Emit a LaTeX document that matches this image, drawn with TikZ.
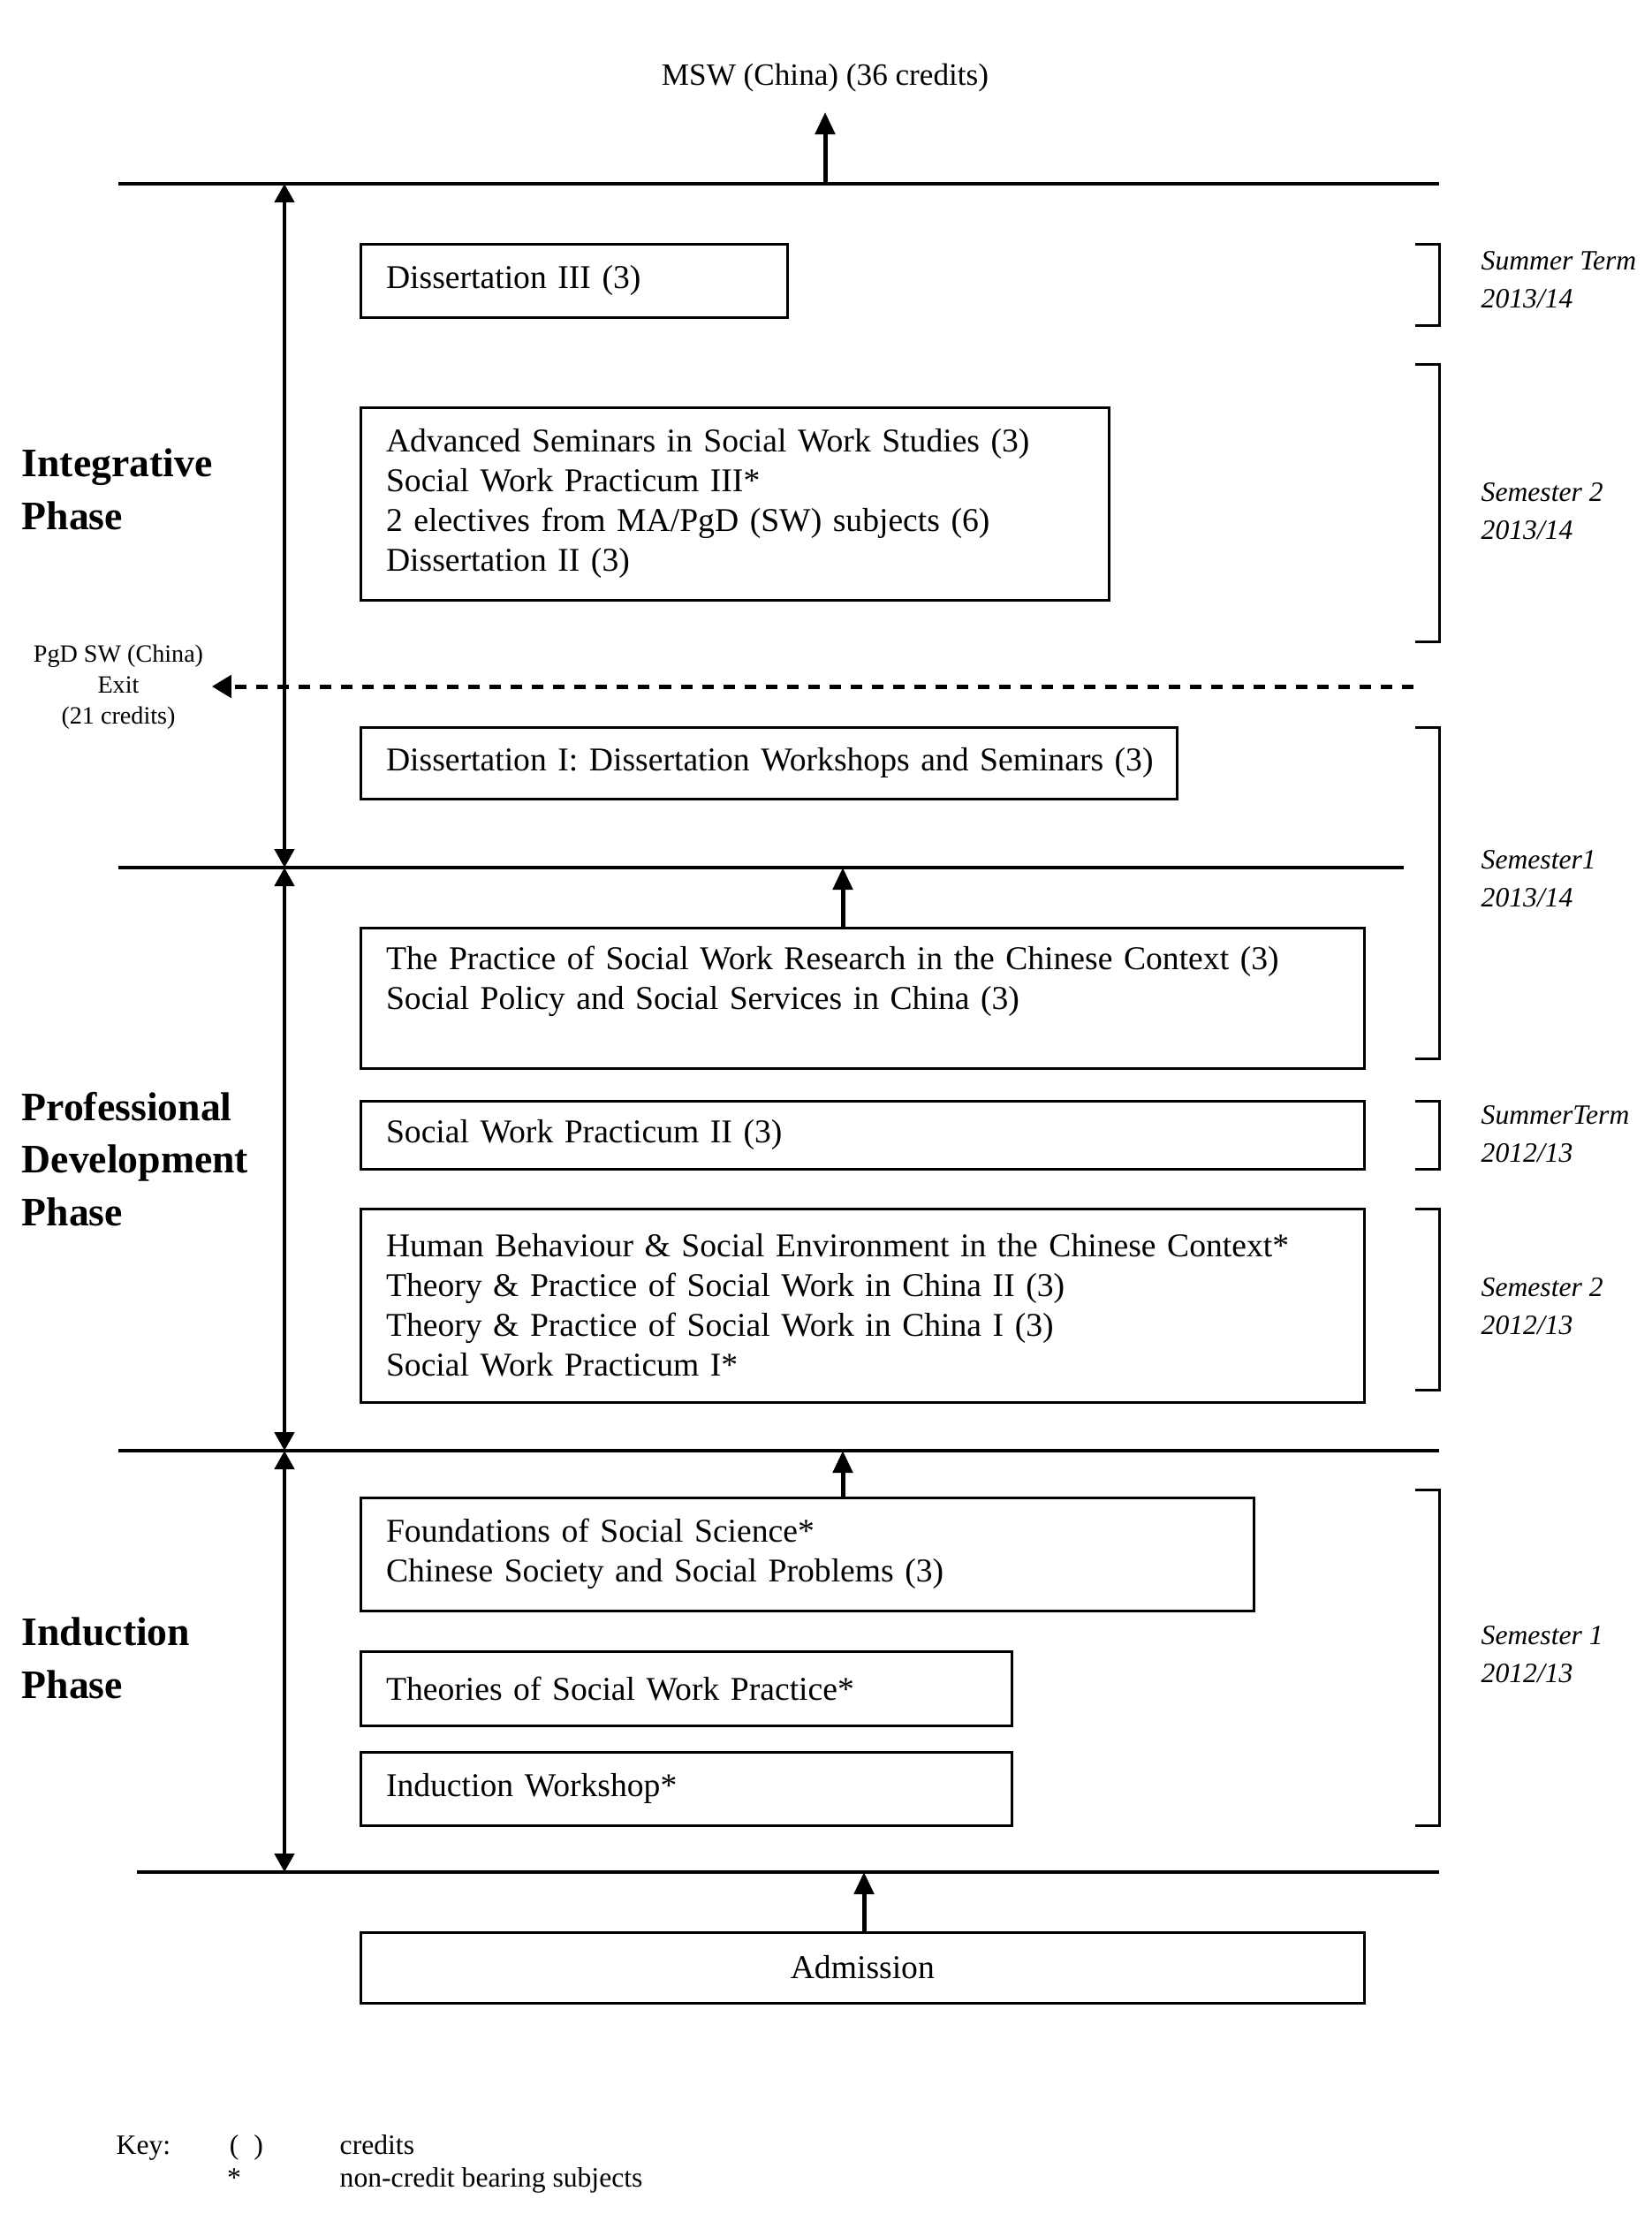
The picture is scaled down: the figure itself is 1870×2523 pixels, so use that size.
\documentclass[tikz,border=0pt]{standalone}
\usepackage{fontspec}
\setmainfont{Liberation Serif}
\usetikzlibrary{arrows.meta}

\tikzset{
  course/.style={draw, line width=0.03cm, anchor=north west, align=left,
    inner xsep=0.29cm, inner ysep=0pt, outer sep=0pt,
    font=\fontsize{10.7}{12.8}\selectfont},
  phase/.style={anchor=west, align=left, inner sep=0pt,
    font=\fontsize{13}{17}\selectfont\bfseries},
  semlabel/.style={anchor=west, align=left, inner sep=0pt,
    font=\fontsize{9}{12.3}\selectfont\itshape},
  keytext/.style={anchor=base west, inner sep=0pt,
    font=\fontsize{9}{11}\selectfont},
  divider/.style={line width=0.035cm},
  semterm/.style={line width=0.03cm},
  phasespan/.style={line width=0.045cm,
    {Triangle[length=0.21cm,width=0.22cm]}-{Triangle[length=0.21cm,width=0.22cm]}},
  uparrow/.style={line width=0.05cm, -{Triangle[length=0.25cm,width=0.22cm]}},
  exitarrow/.style={line width=0.05cm, dash pattern=on 0.13cm off 0.11cm,
    -{Triangle[length=0.22cm,width=0.25cm]}}
}

\begin{document}
\begin{tikzpicture}[x=0.01cm, y=-0.01cm]
  \useasboundingbox (0,0) rectangle (1870,2523);

  % phase dividers
  \coordinate (topL) at (134,208);  \coordinate (topR) at (1629,208);
  \coordinate (m1L) at (134,982);   \coordinate (m1R) at (1589,982);
  \coordinate (m2L) at (134,1642);  \coordinate (m2R) at (1629,1642);
  \coordinate (botL) at (155,2119); \coordinate (botR) at (1629,2119);
  \foreach \from/\to in {topL/topR,m1L/m1R,m2L/m2R,botL/botR}
    \draw[divider] (\from) -- (\to);

  % spans of the phases
  \coordinate (topS) at (322,208);
  \coordinate (m1S) at (322,982);
  \coordinate (m2S) at (322,1642);
  \coordinate (botS) at (322,2119);
  \foreach \from/\to in {topS/m1S,m1S/m2S,m2S/botS}
    \draw[phasespan] (\from) -- (\to);

  % subjects
  \node[course, text width=4.25cm, minimum height=0.83cm] (dis3) at (408,276)
    {Dissertation III (3)};
  \node[course, text width=7.89cm, minimum height=2.18cm] (adv) at (408,461)
    {Advanced Seminars in Social Work Studies (3)\\
     Social Work Practicum III*\\
     2 electives from MA/PgD (SW) subjects (6)\\
     Dissertation II (3)};
  \node[course, text width=8.66cm, minimum height=0.81cm] (dis1) at (408,823)
    {\mbox{Dissertation I: Dissertation Workshops and Seminars (3)}};
  \node[course, text width=10.78cm, minimum height=1.59cm] (prac) at (408,1050)
    {The Practice of Social Work Research in the Chinese Context (3)\\
     Social Policy and Social Services in China (3)\\
     \mbox{}};
  \node[course, text width=10.78cm, minimum height=0.77cm] (swp2) at (408,1246)
    {Social Work Practicum II (3)};
  \node[course, text width=10.78cm, minimum height=2.19cm] (hbse) at (408,1368)
    {Human Behaviour \& Social Environment in the Chinese Context*\\
     Theory \& Practice of Social Work in China II (3)\\
     Theory \& Practice of Social Work in China I (3)\\
     Social Work Practicum I*};
  \node[course, text width=9.53cm, minimum height=1.28cm] (found) at (408,1695)
    {Foundations of Social Science*\\
     Chinese Society and Social Problems (3)};
  \node[course, text width=6.79cm, minimum height=0.84cm] (theo) at (408,1869)
    {Theories of Social Work Practice*};
  \node[course, text width=6.79cm, minimum height=0.83cm] (indw) at (408,1983)
    {Induction Workshop*};
  \node[course, text width=10.78cm, minimum height=0.80cm, align=center] (adm)
    at (408,2187) {Admission};

  % awards
  \node[font=\fontsize{10}{12}\selectfont] (msw) at (934,88)
    {MSW (China) (36 credits)};
  \node[align=center, inner xsep=0.09cm, font=\fontsize{8}{10}\selectfont] (pgd)
    at (134,778) {PgD SW (China)\\Exit\\(21 credits)};

  % progression arrows
  \coordinate (topM) at (934,208);
  \coordinate (mswTip) at (934,127);
  \coordinate (m1up) at (954,982);
  \coordinate (m2up) at (954,1642);
  \coordinate (botup) at (978,2119);
  \coordinate (exitR) at (1600,777);
  \draw[uparrow] (topM) -- (mswTip);
  \draw[uparrow] (prac.north -| m1up) -- (m1up);
  \draw[uparrow] (found.north -| m2up) -- (m2up);
  \draw[uparrow] (adm.north -| botup) -- (botup);
  \draw[exitarrow] (exitR) -- (exitR -| pgd.east);

  % phases
  \node[phase] (integ) at (24,554) {Integrative\\Phase};
  \node[phase] (prof) at (24,1312) {Professional\\Development\\Phase};
  \node[phase] (induc) at (24,1877) {Induction\\Phase};

  % terms
  \foreach \ya/\yb in {276/368,412/726,823/1198,1246/1323,1368/1573,1686/2066}
    \draw[semterm] (1602,\ya) -- (1629,\ya) -- (1629,\yb) -- (1602,\yb);
  \node[semlabel] (sum14) at (1676,317) {Summer Term\\2013/14};
  \node[semlabel] (sem2a) at (1676,579) {Semester 2\\2013/14};
  \node[semlabel] (sem1a) at (1676,995) {Semester1\\2013/14};
  \node[semlabel] (sum13) at (1676,1284) {SummerTerm\\2012/13};
  \node[semlabel] (sem2b) at (1676,1479) {Semester 2\\2012/13};
  \node[semlabel] (sem1b) at (1676,1873) {Semester 1\\2012/13};

  % key
  \node[keytext] (key) at (131,2438) {Key:};
  \node[keytext, anchor=base] (keyparen) at (279,2438) {(\hspace{0.17cm})};
  \node[keytext] (keycr) at (384,2438) {credits};
  \node[keytext, anchor=base] (keyast) at (265,2475) {*};
  \node[keytext] (keync) at (384,2475) {non-credit bearing subjects};
\end{tikzpicture}
\end{document}
